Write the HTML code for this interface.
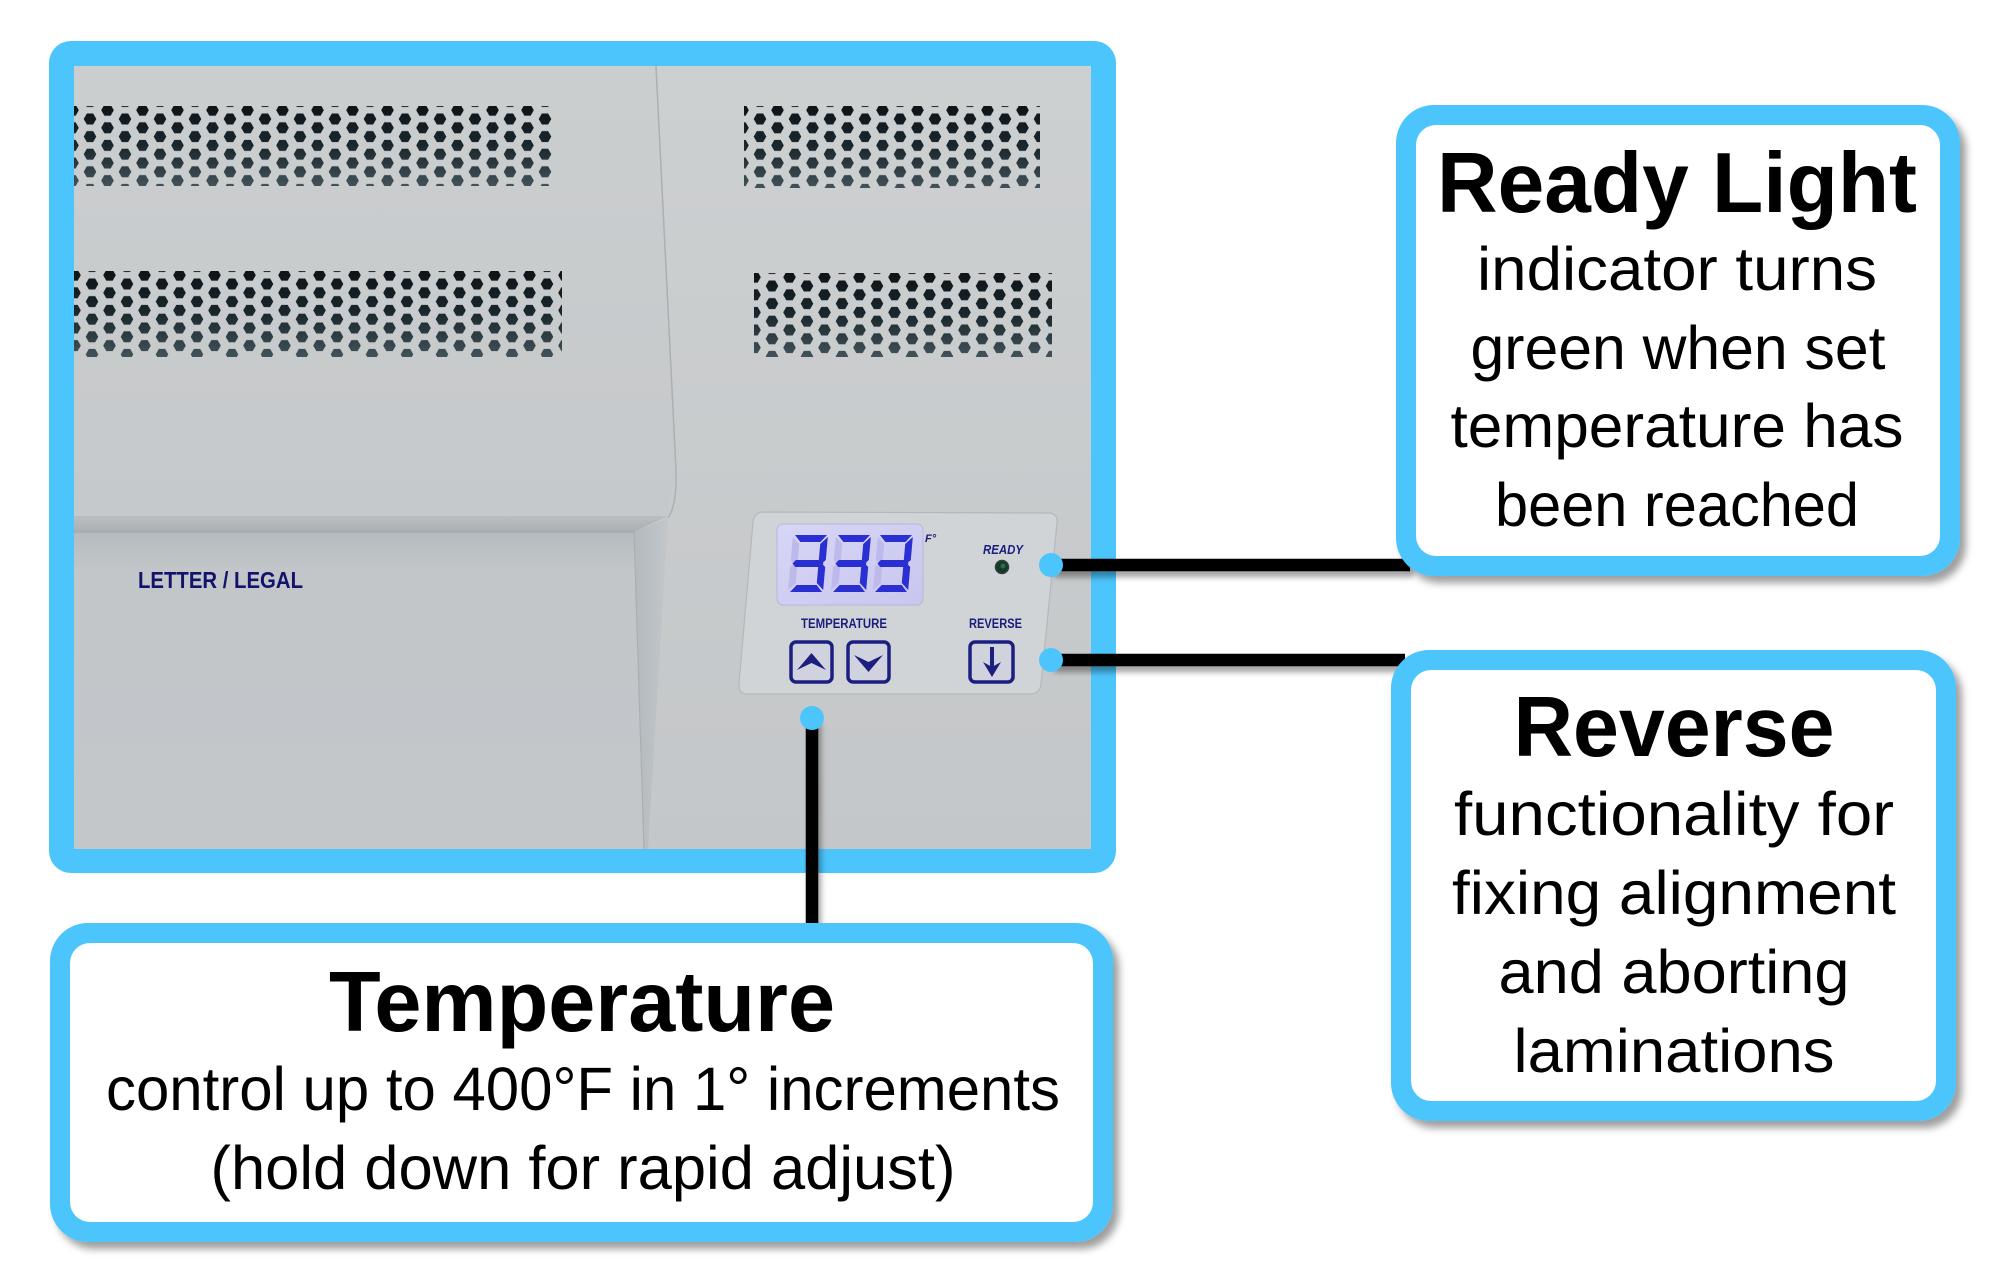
<!DOCTYPE html>
<html><head><meta charset="utf-8"><style>
html,body{margin:0;padding:0;background:#fff;}
svg{display:block;}
text{font-family:"Liberation Sans",Arial,sans-serif;}
</style></head><body>
<svg width="2000" height="1280" viewBox="0 0 2000 1280" xmlns="http://www.w3.org/2000/svg">
<defs>
  <filter id="bsh" x="-10%" y="-10%" width="125%" height="125%">
    <feDropShadow dx="6" dy="7" stdDeviation="4" flood-color="#000" flood-opacity="0.38"/>
  </filter>
  <filter id="lsh" x="-10%" y="-50%" width="120%" height="200%">
    <feDropShadow dx="3" dy="6" stdDeviation="3" flood-color="#000" flood-opacity="0.35"/>
  </filter>
  <clipPath id="pc"><rect x="74" y="66" width="1017" height="783"/></clipPath>
  <linearGradient id="bodyGrad" x1="0" y1="0" x2="0" y2="1">
    <stop offset="0" stop-color="#cdd0d1"/><stop offset="1" stop-color="#c4c7c9"/>
  </linearGradient>
  <linearGradient id="lidGrad" x1="0" y1="0" x2="0" y2="1">
    <stop offset="0" stop-color="#cbcecf"/><stop offset="1" stop-color="#c6c9cb"/>
  </linearGradient>
  <linearGradient id="recGrad" x1="0" y1="532" x2="0" y2="849" gradientUnits="userSpaceOnUse">
    <stop offset="0" stop-color="#b5bbbf"/><stop offset="0.12" stop-color="#c2c6c9"/><stop offset="1" stop-color="#c3c7ca"/>
  </linearGradient>
  <linearGradient id="ledgeGrad" x1="0" y1="0" x2="0" y2="1">
    <stop offset="0" stop-color="#b9bec1"/><stop offset="1" stop-color="#a9afb3"/>
  </linearGradient>
  <linearGradient id="wedgeGrad" x1="0" y1="0" x2="1" y2="0">
    <stop offset="0" stop-color="#b3b9bd"/><stop offset="1" stop-color="#c2c7ca"/>
  </linearGradient>
  <linearGradient id="holeGrad" x1="0" y1="0" x2="0" y2="1">
    <stop offset="0" stop-color="#0d1417"/><stop offset="0.5" stop-color="#1b272d"/><stop offset="1" stop-color="#425259"/>
  </linearGradient>
  <linearGradient id="lcdGrad" x1="0" y1="0" x2="1" y2="1">
    <stop offset="0" stop-color="#d8d6f6"/><stop offset="1" stop-color="#c9c6ee"/>
  </linearGradient>
  <g id="tile" fill="#fff">
    <polygon points="-6.3,0 -3.15,-5.46 3.15,-5.46 6.3,0 3.15,5.46 -3.15,5.46"/>
    <polygon points="28.7,0 31.85,-5.46 38.15,-5.46 41.3,0 38.15,5.46 31.85,5.46"/>
    <polygon points="-6.3,17.6 -3.15,12.14 3.15,12.14 6.3,17.6 3.15,23.06 -3.15,23.06"/>
    <polygon points="28.7,17.6 31.85,12.14 38.15,12.14 41.3,17.6 38.15,23.06 31.85,23.06"/>
    <polygon points="11.2,8.8 14.35,3.34 20.65,3.34 23.8,8.8 20.65,14.26 14.35,14.26"/>
  </g>
  <pattern id="p1" x="90" y="119" width="35" height="17.6" patternUnits="userSpaceOnUse"><use href="#tile"/></pattern>
  <pattern id="p2" x="92" y="284" width="35" height="17.6" patternUnits="userSpaceOnUse"><use href="#tile"/></pattern>
  <pattern id="p3" x="760" y="119" width="35" height="17.6" patternUnits="userSpaceOnUse"><use href="#tile"/></pattern>
  <pattern id="p4" x="772" y="286" width="35" height="17.6" patternUnits="userSpaceOnUse"><use href="#tile"/></pattern>
  <mask id="m1" maskUnits="userSpaceOnUse" x="0" y="0" width="2000" height="1280"><rect x="74" y="106" width="482" height="80" fill="url(#p1)"/></mask>
  <mask id="m2" maskUnits="userSpaceOnUse" x="0" y="0" width="2000" height="1280"><rect x="74" y="271" width="488" height="86" fill="url(#p2)"/></mask>
  <mask id="m3" maskUnits="userSpaceOnUse" x="0" y="0" width="2000" height="1280"><rect x="744" y="106" width="296" height="82" fill="url(#p3)"/></mask>
  <mask id="m4" maskUnits="userSpaceOnUse" x="0" y="0" width="2000" height="1280"><rect x="754" y="273" width="298" height="84" fill="url(#p4)"/></mask>
  <g id="d3">
    <polygon points="1,2 8,9 8,25 4,28 1,25" fill="#bdb9ea"/>
    <polygon points="1,32 4,29 8,32 8,48 1,55" fill="#bdb9ea"/>
    <g fill="#2a2fd2">
      <polygon points="3,0 35,0 29,7 9,7"/>
      <polygon points="36,2 36,25 33,28 29,25 29,9"/>
      <polygon points="6,25 31,25 34,28.5 31,32 6,32 3,28.5"/>
      <polygon points="29,32 33,29 36,32 36,55 29,48"/>
      <polygon points="9,50 29,50 35,57 3,57"/>
    </g>
  </g>
</defs>

<rect width="2000" height="1280" fill="#fff"/>

<!-- Main photo panel -->
<rect x="49" y="41" width="1067" height="832" rx="22" fill="#4cc5fc"/>
<g clip-path="url(#pc)">
  <rect x="74" y="66" width="1017" height="783" fill="#c7cacc"/>
  <polygon points="656,66 1091,66 1091,849 648,849 668,518 676,470" fill="url(#bodyGrad)"/>
  <polygon points="74,66 656,66 676,470 668,516 74,516" fill="url(#lidGrad)"/>
  <polygon points="74,532 634,532 644,849 74,849" fill="url(#recGrad)"/>
  <polygon points="74,516 668,516 634,532 74,532" fill="url(#ledgeGrad)"/>
  <polygon points="634,532 668,518 648,849 644,849" fill="url(#wedgeGrad)"/>
  <path d="M656,66 L676,470 Q677,505 668,518" stroke="#aab0b3" stroke-width="1.5" fill="none"/>
  <line x1="634" y1="532" x2="644" y2="849" stroke="#a9afb3" stroke-width="1.2"/>
  <line x1="74" y1="532" x2="634" y2="532" stroke="#9ea5a9" stroke-width="1"/>

  <!-- vents -->
  <rect x="74" y="106" width="482" height="80" fill="url(#holeGrad)" mask="url(#m1)"/>
  <rect x="74" y="271" width="488" height="86" fill="url(#holeGrad)" mask="url(#m2)"/>
  <rect x="744" y="106" width="296" height="82" fill="url(#holeGrad)" mask="url(#m3)"/>
  <rect x="754" y="273" width="298" height="84" fill="url(#holeGrad)" mask="url(#m4)"/>

  <text x="138" y="588" font-size="23" font-weight="bold" fill="#12136a" textLength="165" lengthAdjust="spacingAndGlyphs">LETTER / LEGAL</text>

  <!-- control panel -->
  <path d="M764,512 L1048,513 Q1058,513 1057,523 L1041,684 Q1040,694 1030,694 L748,694 Q738,694 739,684 L753,522 Q754,512 764,512 Z" fill="#d1d4d7" stroke="#b3b8bc" stroke-width="1.2"/>
  <rect x="777" y="524" width="146" height="81" rx="6" fill="url(#lcdGrad)" stroke="#b8b6dc" stroke-width="1"/>
  <use href="#d3" transform="translate(792,535) skewX(-5)"/>
  <use href="#d3" transform="translate(835,535) skewX(-5)"/>
  <use href="#d3" transform="translate(877,535) skewX(-5)"/>
  <text x="925" y="542" font-size="11" font-weight="bold" font-style="italic" fill="#1b1e7a">F°</text>
  <text x="983" y="554" font-size="12.5" font-weight="bold" font-style="italic" fill="#1b1e7a" textLength="40" lengthAdjust="spacingAndGlyphs">READY</text>
  <circle cx="1002" cy="567" r="6.5" fill="#123a2a" stroke="#33413b" stroke-width="1.5"/>
  <circle cx="1003" cy="566" r="2.5" fill="#2a6a45"/>
  <text x="801" y="628" font-size="13.5" font-weight="bold" fill="#1b1e7a" textLength="86" lengthAdjust="spacingAndGlyphs">TEMPERATURE</text>
  <text x="969" y="628" font-size="13.5" font-weight="bold" fill="#1b1e7a" textLength="53" lengthAdjust="spacingAndGlyphs">REVERSE</text>
  <g fill="#d0d3de" stroke="#1c1f80" stroke-width="3.5">
    <rect x="791" y="642" width="41" height="40" rx="5"/>
    <rect x="848" y="642" width="41" height="40" rx="5"/>
    <rect x="970" y="642" width="43" height="40" rx="5"/>
  </g>
  <g fill="#1c1f80">
    <polygon points="797,670 811.5,653 826,670 811.5,663"/>
    <polygon points="854,655 868.5,672 883,655 868.5,662"/>
    <rect x="990" y="647" width="4" height="20"/>
    <polygon points="983,662 992,667 1001,662 992,677"/>
  </g>
</g>

<!-- connectors -->
<g filter="url(#lsh)" stroke="#000" stroke-width="12.5">
  <line x1="1051" y1="565" x2="1410" y2="565"/>
  <line x1="1051" y1="660" x2="1405" y2="660"/>
  <line x1="812" y1="718" x2="812" y2="932"/>
</g>
<g fill="#4cc5fc">
  <circle cx="1051" cy="565" r="12"/>
  <circle cx="1051" cy="660" r="12"/>
  <circle cx="812" cy="718" r="12"/>
</g>

<!-- Ready Light box -->
<g filter="url(#bsh)">
  <rect x="1396" y="105" width="564" height="471" rx="38" fill="#4cc5fc"/>
</g>
<rect x="1416" y="125" width="524" height="431" rx="20" fill="#fff"/>
<g text-anchor="middle" fill="#000">
  <text x="1677" y="212" font-size="85" font-weight="bold" textLength="480" lengthAdjust="spacingAndGlyphs">Ready Light</text>
  <text x="1677" y="290" font-size="61" textLength="400" lengthAdjust="spacingAndGlyphs">indicator turns</text>
  <text x="1678" y="369" font-size="61" textLength="415" lengthAdjust="spacingAndGlyphs">green when set</text>
  <text x="1677" y="447" font-size="61" textLength="453" lengthAdjust="spacingAndGlyphs">temperature has</text>
  <text x="1677" y="526" font-size="61" textLength="364" lengthAdjust="spacingAndGlyphs">been reached</text>
</g>

<!-- Reverse box -->
<g filter="url(#bsh)">
  <rect x="1391" y="650" width="565" height="471" rx="38" fill="#4cc5fc"/>
</g>
<rect x="1411" y="670" width="525" height="431" rx="20" fill="#fff"/>
<g text-anchor="middle" fill="#000">
  <text x="1674" y="756" font-size="85" font-weight="bold" textLength="321" lengthAdjust="spacingAndGlyphs">Reverse</text>
  <text x="1674" y="835" font-size="61" textLength="440" lengthAdjust="spacingAndGlyphs">functionality for</text>
  <text x="1674" y="914" font-size="61" textLength="444" lengthAdjust="spacingAndGlyphs">fixing alignment</text>
  <text x="1674" y="993" font-size="61" textLength="351" lengthAdjust="spacingAndGlyphs">and aborting</text>
  <text x="1674" y="1072" font-size="61" textLength="321" lengthAdjust="spacingAndGlyphs">laminations</text>
</g>

<!-- Temperature box -->
<g filter="url(#bsh)">
  <rect x="50" y="923" width="1063" height="319" rx="38" fill="#4cc5fc"/>
</g>
<rect x="70" y="943" width="1023" height="279" rx="20" fill="#fff"/>
<g text-anchor="middle" fill="#000">
  <text x="582" y="1031" font-size="85" font-weight="bold" textLength="506" lengthAdjust="spacingAndGlyphs">Temperature</text>
  <text x="583" y="1110" font-size="61" textLength="954" lengthAdjust="spacingAndGlyphs">control up to 400°F in 1° increments</text>
  <text x="583" y="1189" font-size="61" textLength="745" lengthAdjust="spacingAndGlyphs">(hold down for rapid adjust)</text>
</g>
</svg>
</body></html>
